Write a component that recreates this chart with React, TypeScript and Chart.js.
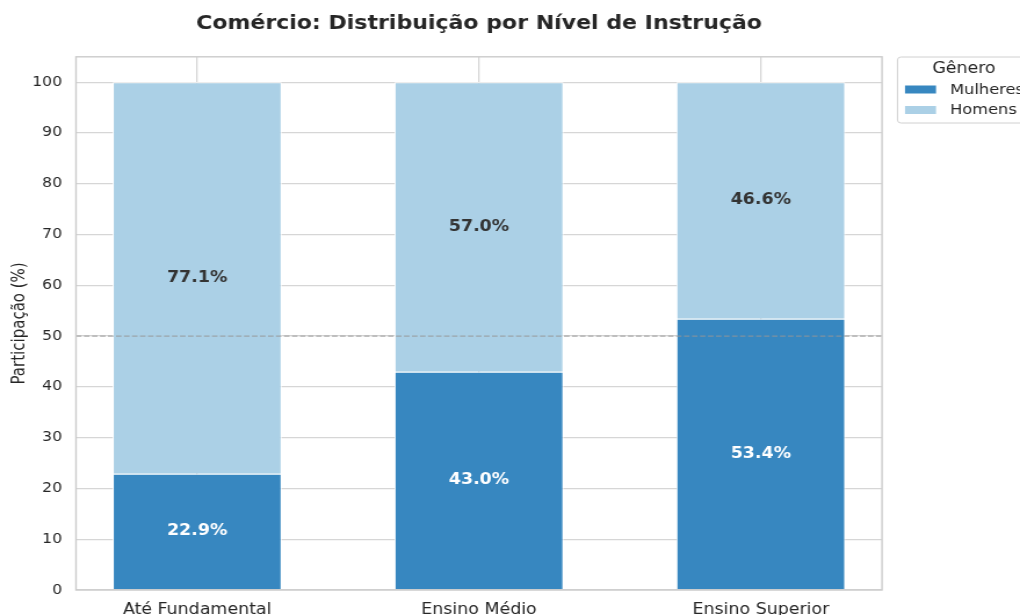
import React, { useEffect, useRef } from "react";
import { Chart, registerables } from "chart.js";

Chart.register(...registerables);

const categories = ["Até Fundamental", "Ensino Médio", "Ensino Superior"];
const mulheres = [22.9, 43.0, 53.4];
const homens = [77.1, 57.0, 46.6];
const yTicks = [0, 10, 20, 30, 40, 50, 60, 70, 80, 90, 100];
const seriesNames = ["Mulheres", "Homens"];
const legendTitle = "Gênero";
const chartTitle = "Comércio: Distribuição por Nível de Instrução";
const yTitle = "Participação (%)";
const refLine = 50;

const DARK = "#3787c0";
const LIGHT = "#abd0e6";
const FONT = "'DejaVu Sans', sans-serif";
const TEXT = "#262626";

// The reference picture is horizontally stretched; draw at a narrower width and stretch.
const OUT_W = 1020;
const OUT_H = 615;
const INNER_W = 879;
const SX = OUT_W / INNER_W;
const px = (v: number) => v / SX;

export default function App() {
  const ref = useRef<HTMLCanvasElement | null>(null);

  useEffect(() => {
    const canvas = ref.current;
    if (!canvas) return;

    const overlay = {
      id: "overlay",
      afterDatasetsDraw(chart: any) {
        const ctx = chart.ctx;
        const { left, right, top, bottom } = chart.chartArea;
        const ys = chart.scales.y;
        // reference dashed line
        ctx.save();
        ctx.strokeStyle = "rgba(150,150,150,0.75)";
        ctx.lineWidth = 1.2;
        ctx.setLineDash([px(5.5), px(2.5)]);
        const y50 = ys.getPixelForValue(refLine);
        ctx.beginPath();
        ctx.moveTo(left, y50);
        ctx.lineTo(right, y50);
        ctx.stroke();
        ctx.restore();
        // value labels
        ctx.save();
        ctx.font = `bold 15px ${FONT}`;
        ctx.textAlign = "center";
        ctx.textBaseline = "middle";
        chart.data.datasets.forEach((ds: any, i: number) => {
          const meta = chart.getDatasetMeta(i);
          meta.data.forEach((el: any, j: number) => {
            const v = ds.data[j].y;
            ctx.fillStyle = i === 0 ? "#ffffff" : "#333333";
            ctx.fillText(`${v.toFixed(1)}%`, el.x, (el.y + el.base) / 2);
          });
        });
        ctx.restore();
        // spines
        ctx.save();
        ctx.strokeStyle = "#cccccc";
        ctx.lineWidth = 1.4;
        ctx.strokeRect(left, top, right - left, bottom - top);
        ctx.restore();
      },
      afterDraw(chart: any) {
        const ctx = chart.ctx;
        // legend
        ctx.save();
        const bx = px(897.5), by = 57, bw = 140, bh = 66;
        ctx.fillStyle = "rgba(255,255,255,0.9)";
        ctx.strokeStyle = "#d0d0d0";
        ctx.lineWidth = 1;
        ctx.beginPath();
        ctx.roundRect(bx, by, bw, bh, 3);
        ctx.fill();
        ctx.stroke();
        ctx.fillStyle = TEXT;
        ctx.font = `15px ${FONT}`;
        ctx.textAlign = "center";
        ctx.textBaseline = "middle";
        ctx.fillText(legendTitle, px(964), 69);
        const colors = [DARK, LIGHT];
        const rows = [89.5, 110];
        ctx.textAlign = "left";
        ctx.font = `14px ${FONT}`;
        seriesNames.forEach((n, i) => {
          ctx.fillStyle = colors[i];
          ctx.fillRect(px(905), rows[i] - 4, px(936) - px(905), 8);
          ctx.fillStyle = TEXT;
          ctx.fillText(n, px(950), rows[i] + 0.5);
        });
        ctx.restore();
      },
    };

    const chart = new Chart(canvas, {
      type: "bar",
      data: {
        datasets: [
          {
            label: seriesNames[0],
            data: mulheres.map((v, i) => ({ x: i, y: v })),
            backgroundColor: DARK,
            borderColor: "#ffffff",
            borderWidth: 1,
            barPercentage: 0.6,
            categoryPercentage: 1.0,
          },
          {
            label: seriesNames[1],
            data: homens.map((v, i) => ({ x: i, y: v })),
            backgroundColor: LIGHT,
            borderColor: "#ffffff",
            borderWidth: 1,
            barPercentage: 0.6,
            categoryPercentage: 1.0,
          },
        ],
      },
      options: {
        animation: false,
        responsive: false,
        devicePixelRatio: 1,
        layout: { padding: { left: 0, right: INNER_W - px(882), top: 0, bottom: 0 } },
        plugins: {
          legend: { display: false },
          tooltip: { enabled: false },
          title: {
            display: true,
            fullSize: false,
            text: chartTitle,
            color: TEXT,
            font: { family: FONT, size: 19, weight: "bold", lineHeight: 1.2 },
            padding: { top: 13, bottom: 21 },
          },
        },
        scales: {
          x: {
            type: "linear",
            stacked: true,
            offset: false,
            min: -0.43,
            max: 2.43,
            afterBuildTicks: (s: any) => {
              s.ticks = categories.map((_, i) => ({ value: i }));
            },
            afterFit: (s: any) => {
              s.height = 25;
            },
            ticks: {
              callback: (v: any) => categories[Math.round(Number(v))],
              color: TEXT,
              font: { family: FONT, size: 15 },
              padding: 11,
              maxRotation: 0,
              autoSkip: false,
            },
            grid: { color: "#d6d6d6", lineWidth: 1.3, drawTicks: false, offset: false },
            border: { display: false },
          },
          y: {
            stacked: true,
            min: 0,
            max: 105,
            afterBuildTicks: (s: any) => {
              s.ticks = yTicks.map((v) => ({ value: v }));
            },
            afterFit: (s: any) => {
              s.width = px(76);
            },
            ticks: {
              color: TEXT,
              font: { family: FONT, size: 13.5 },
              padding: 12,
            },
            grid: { color: "#d6d6d6", lineWidth: 1.3, drawTicks: false },
            border: { display: false },
            title: {
              display: true,
              text: yTitle,
              color: TEXT,
              font: { family: FONT, size: 15 },
              padding: { top: 8, bottom: 0 },
            },
          },
        },
      },
      plugins: [overlay],
    } as any);

    return () => chart.destroy();
  }, []);

  return (
    <div style={{ position: "absolute", left: 0, top: 0, width: OUT_W, height: OUT_H, overflow: "hidden", background: "#ffffff" }}>
      <canvas
        ref={ref}
        width={INNER_W}
        height={OUT_H}
        style={{
          width: INNER_W,
          height: OUT_H,
          display: "block",
          transform: `scaleX(${SX})`,
          transformOrigin: "0 0",
        }}
      />
    </div>
  );
}
